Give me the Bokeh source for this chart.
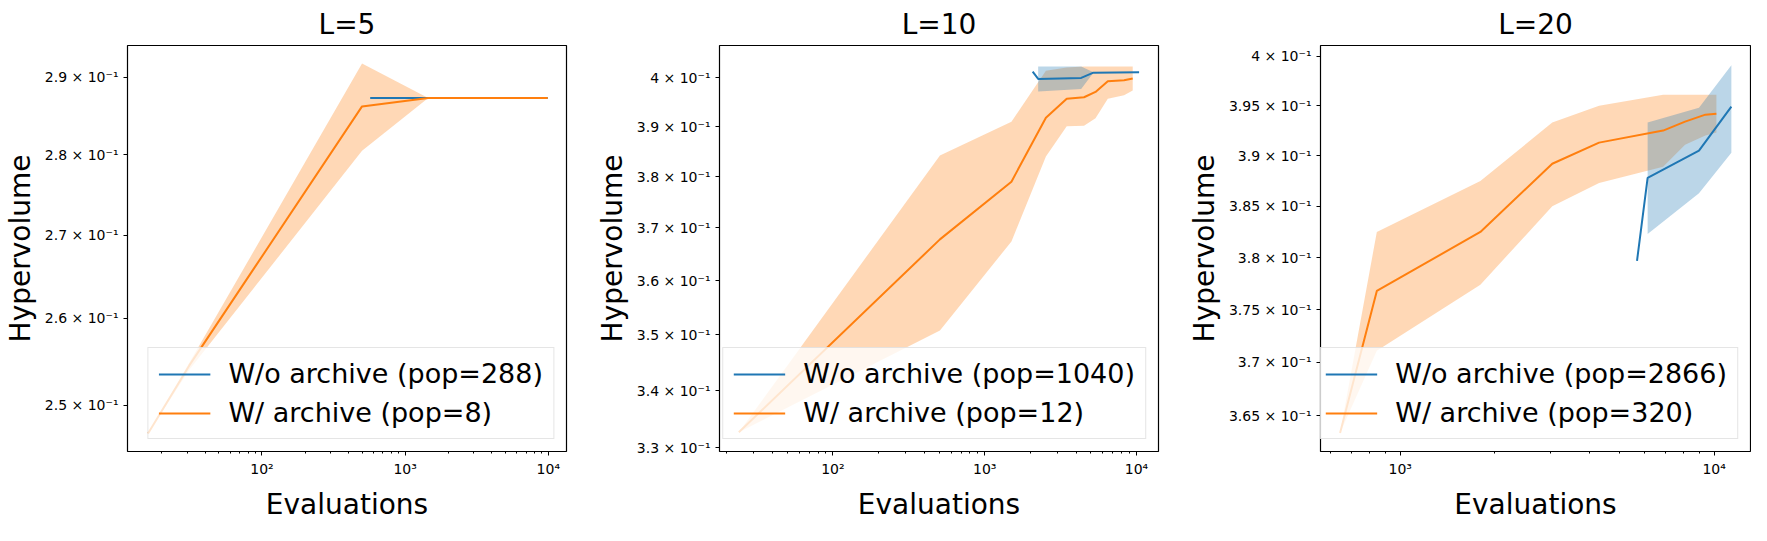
from bokeh.plotting import figure
from bokeh.layouts import row
from bokeh.models import FixedTicker, Range1d, Legend, LegendItem
from bokeh.embed import file_html
from bokeh.resources import INLINE

BLUE = "#1f77b4"
ORANGE = "#ff7f0e"
FONT = "DejaVu Sans"

# ---- L=5 ----
l5_or_x = [16, 31, 500, 1450, 9900]
l5_or_y = [0.2468, 0.2545, 0.2862, 0.2873, 0.2873]
l5_or_lo = [0.2468, 0.2540, 0.2805, 0.2873, 0.2873]
l5_or_hi = [0.2468, 0.2548, 0.2918, 0.2873, 0.2873]
l5_bl_x = [570, 9900]
l5_bl_y = [0.2873, 0.2873]
l5_bl_lo = [0.2873, 0.2873]
l5_bl_hi = [0.2873, 0.2873]

# ---- L=10 ----
l10_or_x = [24, 507, 1500, 2530, 3470, 4510, 5370, 6470, 8280, 9440]
l10_or_y = [0.3327, 0.3678, 0.3790, 0.3918, 0.3957, 0.3960, 0.3971, 0.3993, 0.3995, 0.3999]
l10_or_hi = [0.3327, 0.3842, 0.3910, 0.4015, 0.4022, 0.4024, 0.4024, 0.4024, 0.4024, 0.4024]
l10_or_lo = [0.3327, 0.3508, 0.3674, 0.3840, 0.3901, 0.3902, 0.3917, 0.3957, 0.3964, 0.3974]
l10_bl_x = [2070, 2250, 4320, 5200, 10400]
l10_bl_y = [0.4013, 0.3998, 0.4000, 0.4011, 0.4012]
l10_bl_bx = [2250, 4320, 5200, 10400]
l10_bl_hi = [0.4024, 0.4024, 0.4012, 0.4012]
l10_bl_lo = [0.3972, 0.3977, 0.4011, 0.4012]

# ---- L=20 ----
l20_or_x = [643, 842, 1800, 3050, 4300, 6880, 8080, 9380, 10170]
l20_or_y = [0.3634, 0.3768, 0.3825, 0.3892, 0.3913, 0.3925, 0.3934, 0.3941, 0.3942]
l20_or_hi = [0.3634, 0.3825, 0.3875, 0.3933, 0.3950, 0.3961, 0.3961, 0.3961, 0.3961]
l20_or_lo = [0.3634, 0.3711, 0.3774, 0.3850, 0.3873, 0.3889, 0.3911, 0.3920, 0.3923]
l20_bl_x = [5680, 6140, 8950, 11350]
l20_bl_y = [0.3797, 0.3878, 0.3905, 0.3949]
l20_bl_bx = [6140, 8950, 11350]
l20_bl_hi = [0.3933, 0.3948, 0.3991]
l20_bl_lo = [0.3823, 0.3863, 0.3903]

SUP = {"-": "⁻", "1": "¹", "2": "²", "3": "³", "4": "⁴"}

def sup(s):
    return "".join(SUP[c] for c in s)

def make(title, xr, yr, yticks, ylabels, orx, ory, orlo, orhi, blx, bly, bbx, blo, bhi,
         labels, width, rb):
    p = figure(width=width, height=533, x_axis_type="log", y_axis_type="log",
               output_backend="svg", toolbar_location=None,
               x_range=Range1d(*xr), y_range=Range1d(*yr),
               min_border_left=107, min_border_right=rb, min_border_top=26, min_border_bottom=82)
    p.title.text = title
    p.title.align = "center"
    p.title.text_font = FONT
    p.title.text_font_size = "28px"
    p.title.text_font_style = "normal"
    p.title.text_color = "black"
    p.grid.visible = False
    p.outline_line_color = "black"
    p.outline_line_width = 1.2
    p.outline_line_alpha = 1
    p.varea(x=orx, y1=orlo, y2=orhi, fill_color=ORANGE, fill_alpha=0.3)
    p.varea(x=bbx, y1=blo, y2=bhi, fill_color=BLUE, fill_alpha=0.3)
    rb_ = p.line(blx, bly, line_color=BLUE, line_width=2)
    ro_ = p.line(orx, ory, line_color=ORANGE, line_width=2)
    xt = [100, 1000, 10000]
    minor = [m * d for d in [1, 10, 100, 1000, 10000] for m in range(2, 10)]
    p.xaxis.ticker = FixedTicker(ticks=xt, minor_ticks=minor)
    p.xaxis.major_label_overrides = {100: "10" + sup("2"), 1000: "10" + sup("3"), 10000: "10" + sup("4")}
    p.yaxis.ticker = FixedTicker(ticks=yticks, minor_ticks=[])
    p.yaxis.major_label_overrides = {t: l for t, l in zip(yticks, ylabels)}
    for ax in (p.xaxis, p.yaxis):
        ax.major_label_text_font = FONT
        ax.major_label_text_font_size = "14px"
        ax.major_label_text_color = "black"
        ax.axis_label_text_font = FONT
        ax.axis_label_text_font_size = "28px"
        ax.axis_label_text_font_style = "normal"
        ax.axis_label_text_color = "black"
        ax.axis_line_color = None
        ax.major_tick_in = 0
        ax.major_tick_out = 4
        ax.minor_tick_in = 0
        ax.minor_tick_out = 2
        ax.major_tick_line_color = "black"
        ax.minor_tick_line_color = "black"
    p.xaxis.axis_label = "Evaluations"
    p.yaxis.axis_label = "Hypervolume"
    p.xaxis.axis_label_standoff = 8
    leg = Legend(items=[LegendItem(label=labels[0], renderers=[rb_]),
                        LegendItem(label=labels[1], renderers=[ro_])],
                 location="bottom_right")
    leg.label_text_font = FONT
    leg.label_text_font_size = "27px"
    leg.label_text_color = "black"
    leg.glyph_width = 52
    leg.label_standoff = 18
    leg.spacing = 8
    leg.padding = 10
    leg.margin = 12
    leg.border_line_color = "#cccccc"
    leg.background_fill_alpha = 0.8
    p.add_layout(leg, "center")
    return p

def ylab(vals, fmt):
    return [fmt(v * 10) + " × 10" + sup("-1") for v in vals]

y5 = [0.25, 0.26, 0.27, 0.28, 0.29]
y10 = [0.33, 0.34, 0.35, 0.36, 0.37, 0.38, 0.39, 0.40]
y20 = [0.365, 0.37, 0.375, 0.38, 0.385, 0.39, 0.395, 0.40]

def f(m):
    return ("%.2f" % m).rstrip("0").rstrip(".")

p1 = make("L=5", (11.5, 13400), (0.2448, 0.2942), y5, ylab(y5, f),
          l5_or_x, l5_or_y, l5_or_lo, l5_or_hi, l5_bl_x, l5_bl_y, l5_bl_x, l5_bl_lo, l5_bl_hi,
          ["W/o archive (pop=288)", "W/ archive (pop=8)"], 592, 26)
p2 = make("L=10", (17.9, 13960), (0.3294, 0.4068), y10, ylab(y10, f),
          l10_or_x, l10_or_y, l10_or_lo, l10_or_hi, l10_bl_x, l10_bl_y, l10_bl_bx, l10_bl_lo, l10_bl_hi,
          ["W/o archive (pop=1040)", "W/ archive (pop=12)"], 592, 26)
p3 = make("L=20", (557, 13060), (0.3617, 0.4011), y20, ylab(y20, f),
          l20_or_x, l20_or_y, l20_or_lo, l20_or_hi, l20_bl_x, l20_bl_y, l20_bl_bx, l20_bl_lo, l20_bl_hi,
          ["W/o archive (pop=2866)", "W/ archive (pop=320)"], 567, 1)

layout = row(p1, p2, p3)
open("out.html", "w").write(file_html(layout, INLINE))
